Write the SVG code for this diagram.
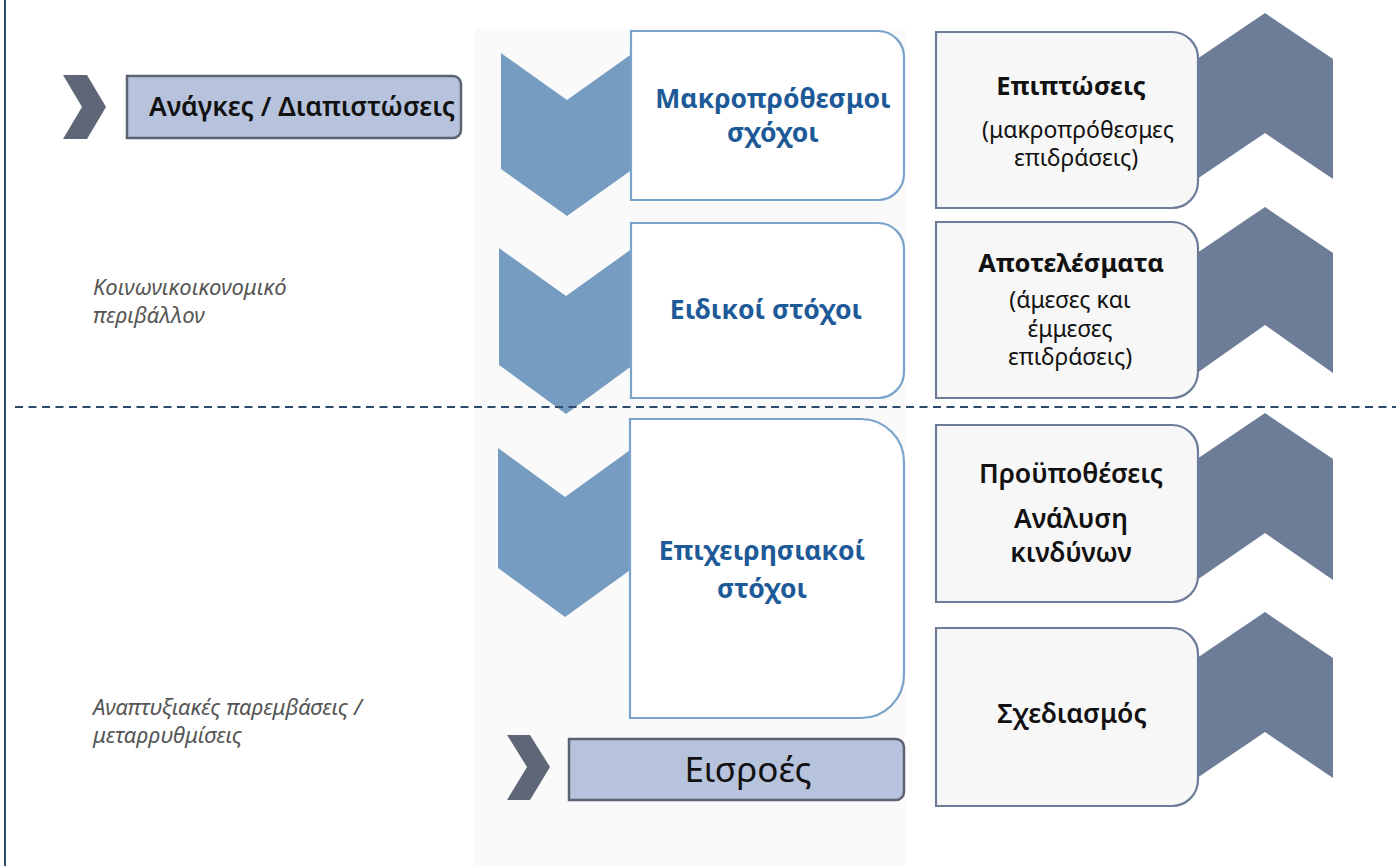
<svg xmlns="http://www.w3.org/2000/svg" width="1396" height="866" viewBox="0 0 1396 866">
<style>
text{font-family:"Noto Sans","Open Sans",sans-serif}
.bc{fill:#769dc1}
.gc{fill:#5f6677}
.rc{fill:#6d7d98}
.mb{fill:#ffffff;stroke:#7aa3cb;stroke-width:2.2}
.rb{fill:#f7f7f7;stroke:#6d7c98;stroke-width:2.2}
.lb{fill:#b7c3dc;stroke:#5b6272;stroke-width:2.5}
.mt{fill:#1d5a97;font-size:26.5px;font-weight:700;text-anchor:middle}
.rt{fill:#111;font-size:23px;text-anchor:middle}
.rtb{font-weight:700;font-size:25.5px}
.rts{font-weight:600;font-size:26.5px}
.it{fill:#555;font-size:22px;font-style:italic}
</style>
<rect width="1396" height="866" fill="#ffffff"/>
<line x1="5" y1="0" x2="5" y2="866" stroke="#2d4a6b" stroke-width="2"/>
<rect x="475" y="28" width="430" height="838" fill="#fafafa"/>

<g id="needs">
<polygon class="gc" points="63,75 87,75 106,107 87,139 63,139 82,107"/>
<path class="lb" d="M127,76 H453 A8,8 0 0 1 461,84 V130 A8,8 0 0 1 453,138 H127 Z"/>
<text x="302" y="116" font-size="26.5" font-weight="600" text-anchor="middle" fill="#111">Ανάγκες / Διαπιστώσεις</text>
</g>

<g id="label-socio">
<text class="it" x="93" y="295">Κοινωνικοικονομικό</text>
<text class="it" x="93" y="323">περιβάλλον</text>
</g>
<g id="label-dev">
<text class="it" x="93" y="715">Αναπτυξιακές παρεμβάσεις /</text>
<text class="it" x="93" y="743">μεταρρυθμίσεις</text>
</g>

<g id="long-term-goals">
<polygon class="bc" points="501,53 567,100 633,53 633,169 567,216 501,169"/>
<path class="mb" d="M631,31 H878 A26,26 0 0 1 904,57 V174 A26,26 0 0 1 878,200 H631 Z"/>
<text class="mt" x="773" y="108">Μακροπρόθεσμοι</text>
<text class="mt" x="773" y="142">σχόχοι</text>
</g>

<g id="specific-goals">
<polygon class="bc" points="499,248 566,296 633,248 633,365 566,414 499,365"/>
<path class="mb" d="M631,223 H878 A26,26 0 0 1 904,249 V372 A26,26 0 0 1 878,398 H631 Z"/>
<text class="mt" x="766" y="319">Ειδικοί στόχοι</text>
</g>

<g id="operational-goals">
<polygon class="bc" points="498,448 565,497 633,448 633,568 565,617 498,568"/>
<path class="mb" d="M630,419 H861 A43,43 0 0 1 904,462 V675 A43,43 0 0 1 861,718 H630 Z"/>
<text class="mt" x="762" y="560">Επιχειρησιακοί</text>
<text class="mt" x="762" y="598">στόχοι</text>
</g>

<g id="inputs">
<polygon class="gc" points="507,735 530,735 550,767 530,800 507,800 527,767"/>
<path class="lb" d="M569,739 H896 A8,8 0 0 1 904,747 V792 A8,8 0 0 1 896,800 H569 Z"/>
<text x="748" y="782" font-size="35" text-anchor="middle" fill="#111">Εισροές</text>
</g>

<g id="impacts">
<polygon class="rc" points="1197,59 1265,13 1333,59 1333,179 1265,133 1197,179"/>
<path class="rb" d="M936,32 H1172 A26,26 0 0 1 1198,58 V182 A26,26 0 0 1 1172,208 H936 Z"/>
<text class="rt rtb" x="1071" y="95">Επιπτώσεις</text>
<text class="rt" x="1078" y="138">(μακροπρόθεσμες</text>
<text class="rt" x="1076" y="166">επιδράσεις)</text>
</g>

<g id="results">
<polygon class="rc" points="1197,253 1265,207 1333,253 1333,373 1265,325 1197,373"/>
<path class="rb" d="M936,222 H1172 A26,26 0 0 1 1198,248 V372 A26,26 0 0 1 1172,398 H936 Z"/>
<text class="rt rtb" x="1071" y="272">Αποτελέσματα</text>
<text class="rt" x="1070" y="308">(άμεσες και</text>
<text class="rt" x="1070" y="337">έμμεσες</text>
<text class="rt" x="1070" y="365">επιδράσεις)</text>
</g>

<g id="preconditions">
<polygon class="rc" points="1197,459 1265,413 1333,459 1333,580 1265,533 1197,580"/>
<path class="rb" d="M936,425 H1172 A26,26 0 0 1 1198,451 V576 A26,26 0 0 1 1172,602 H936 Z"/>
<text class="rt rts" x="1071" y="483">Προϋποθέσεις</text>
<text class="rt rts" x="1071" y="528">Ανάλυση</text>
<text class="rt rts" x="1071" y="562">κινδύνων</text>
</g>

<g id="design">
<polygon class="rc" points="1197,658 1265,612 1333,658 1333,778 1265,732 1197,778"/>
<path class="rb" d="M936,628 H1172 A26,26 0 0 1 1198,654 V780 A26,26 0 0 1 1172,806 H936 Z"/>
<text class="rt rts" x="1072" y="723">Σχεδιασμός</text>
</g>

<g id="connectors">
<line x1="15" y1="407" x2="1396" y2="407" stroke="#2d4a6b" stroke-width="2" stroke-dasharray="8,5.5"/>
</g>
</svg>
